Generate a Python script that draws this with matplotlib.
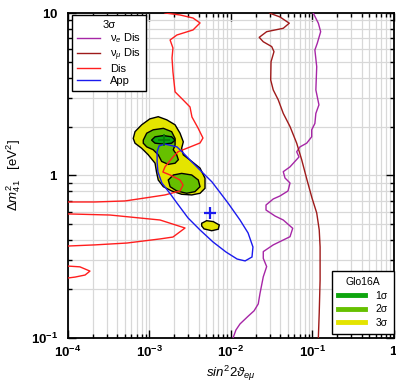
import matplotlib
matplotlib.use('Agg')
import matplotlib.pyplot as plt
from matplotlib.lines import Line2D
from matplotlib.ticker import NullFormatter

plt.rcParams['font.family'] = ['Liberation Sans', 'DejaVu Sans']
plt.rcParams['mathtext.fontset'] = 'custom'
plt.rcParams['mathtext.rm'] = 'Liberation Sans'
plt.rcParams['mathtext.it'] = 'Liberation Sans:italic'
plt.rcParams['mathtext.bf'] = 'Liberation Sans:bold'

# --- Glo16A allowed regions (sin^2 2theta_emu, dm2_41) ---
glo_3s_x = [6.32e-4, 6.64e-4, 8.02e-4, 1.01e-3, 1.28e-3, 1.63e-3, 2.06e-3, 2.37e-3, 2.60e-3,
            2.48e-3, 2.60e-3, 3.30e-3, 4.17e-3, 4.80e-3, 4.80e-3, 4.17e-3, 3.30e-3, 2.48e-3,
            1.87e-3, 1.48e-3, 1.28e-3, 1.22e-3, 1.17e-3, 9.66e-4, 8.02e-4, 6.64e-4]
glo_3s_y = [1.69, 1.86, 2.05, 2.23, 2.30, 2.20, 2.05, 1.82, 1.61, 1.47, 1.34, 1.22, 1.11,
            0.962, 0.834, 0.777, 0.759, 0.766, 0.803, 0.853, 0.938, 1.05, 1.19, 1.34, 1.47, 1.58]

island_3s_x = [4.37e-3, 5.03e-3, 6.07e-3, 7.18e-3, 6.98e-3, 5.80e-3, 4.67e-3, 4.37e-3]
island_3s_y = [0.508, 0.527, 0.520, 0.496, 0.467, 0.457, 0.469, 0.489]

glo_2s_up_x = [8.39e-4, 9.24e-4, 1.11e-3, 1.48e-3, 1.87e-3, 2.06e-3, 2.06e-3, 1.96e-3, 2.16e-3,
               2.26e-3, 2.06e-3, 1.70e-3, 1.41e-3, 1.28e-3, 1.11e-3, 9.24e-4, 8.39e-4]
glo_2s_up_y = [1.65, 1.82, 1.91, 1.95, 1.86, 1.69, 1.54, 1.44, 1.34, 1.25, 1.19, 1.17, 1.22,
               1.34, 1.44, 1.50, 1.58]

glo_2s_lo_x = [1.70e-3, 1.96e-3, 2.48e-3, 3.30e-3, 3.97e-3, 4.17e-3, 3.61e-3, 2.86e-3, 2.16e-3, 1.79e-3]
glo_2s_lo_y = [0.938, 1.007, 1.03, 1.007, 0.938, 0.853, 0.795, 0.777, 0.803, 0.853]

glo_1s_x = [1.06e-3, 1.17e-3, 1.48e-3, 1.87e-3, 2.06e-3, 1.87e-3, 1.48e-3, 1.17e-3]
glo_1s_y = [1.65, 1.73, 1.76, 1.73, 1.65, 1.58, 1.56, 1.58]

glo_best = (1.52e-3, 1.65)
app_best = (5.52e-3, 0.590)

# --- 3 sigma curves ---
app_x = [1.24e-3, 1.27e-3, 1.42e-3, 1.84e-3, 2.17e-3, 2.97e-3, 4.17e-3, 6.01e-3, 8.69e-3,
         1.19e-2, 1.49e-2, 1.81e-2, 1.86e-2, 1.62e-2, 1.29e-2, 9.19e-3, 5.85e-3, 4.41e-3,
         3.32e-3, 2.58e-3, 2.17e-3, 1.55e-3, 1.31e-3, 1.24e-3]
app_y = [1.21, 1.05, 0.899, 0.759, 0.677, 0.548, 0.462, 0.390, 0.338, 0.306, 0.298, 0.315,
         0.363, 0.443, 0.532, 0.677, 0.912, 1.05, 1.21, 1.38, 1.50, 1.56, 1.52, 1.40]

dis_x = [1.01e-3, 1.55e-3, 2.37e-3, 3.42e-3, 4.17e-3, 3.42e-3, 2.17e-3, 1.79e-3, 1.94e-3,
         1.89e-3, 1.94e-3, 2.06e-3, 2.58e-3, 3.14e-3, 3.32e-3, 3.94e-3, 4.53e-3, 4.17e-3,
         2.97e-3, 2.24e-3, 1.89e-3, 1.55e-3, 1.46e-3, 1.79e-3, 2.37e-3, 2.58e-3, 2.37e-3,
         1.55e-3, 8.81e-4, 5.01e-4, 2.14e-4, 1.0e-4, 6.9e-5, 6.9e-5, 1.0e-4, 3.28e-4,
         1.35e-3, 2.73e-3, 1.94e-3, 1.35e-3, 5.30e-4, 2.14e-4, 1.0e-4, 6.9e-5, 6.9e-5,
         1.0e-4, 1.40e-4, 1.86e-4, 1.62e-4, 1.22e-4, 1.0e-4, 6.9e-5]
dis_y = [11.2, 10.0, 9.72, 9.31, 8.68, 7.86, 7.32, 6.82, 6.09, 5.28, 4.34, 3.27, 2.92, 2.64,
         2.29, 1.96, 1.70, 1.585, 1.48, 1.40, 1.28, 1.13, 1.05, 1.007, 0.938, 0.874, 0.803,
         0.759, 0.727, 0.697, 0.687, 0.687, 0.677, 0.588, 0.580, 0.571, 0.532, 0.475, 0.418,
         0.407, 0.384, 0.374, 0.368, 0.368, 0.281, 0.277, 0.274, 0.258, 0.244, 0.237, 0.234, 0.231]

numu_x = [2.61e-2, 3.01e-2, 3.99e-2, 5.19e-2, 4.38e-2, 2.74e-2, 2.22e-2, 2.49e-2, 3.16e-2,
          3.37e-2, 3.10e-2, 3.07e-2, 3.30e-2, 3.80e-2, 4.38e-2, 5.30e-2, 6.40e-2, 7.37e-2,
          8.57e-2, 9.86e-2, 0.1127, 0.121, 0.124, 0.124, 0.121, 0.118, 0.118]
numu_y = [10.7, 9.96, 9.45, 8.65, 8.05, 7.67, 7.08, 6.65, 6.21, 5.78, 5.01, 3.87, 3.36, 2.92,
          2.41, 2.00, 1.58, 1.25, 0.938, 0.727, 0.588, 0.462, 0.363, 0.228, 0.143, 0.1, 0.095]

nue_x = [0.1014, 0.102, 0.118, 0.126, 0.1145, 0.107, 0.1127, 0.110, 0.120, 0.110, 0.107,
         9.78e-2, 9.78e-2, 8.49e-2, 7.03e-2, 6.40e-2, 6.83e-2, 5.30e-2, 4.38e-2, 4.60e-2,
         5.30e-2, 5.01e-2, 3.99e-2, 3.30e-2, 2.69e-2, 2.69e-2, 3.47e-2, 4.38e-2, 5.72e-2,
         5.30e-2, 3.30e-2, 2.49e-2, 2.49e-2, 2.74e-2, 2.49e-2, 2.27e-2, 2.16e-2, 1.92e-2,
         1.62e-2, 1.29e-2, 1.15e-2, 1.06e-2, 1.03e-2]
nue_y = [11.2, 10.0, 8.65, 7.67, 6.51, 5.92, 4.67, 3.36, 2.72, 2.41, 2.09, 1.91, 1.73, 1.58,
         1.50, 1.40, 1.30, 1.13, 1.055, 0.965, 0.899, 0.803, 0.748, 0.717, 0.658, 0.613,
         0.563, 0.532, 0.473, 0.420, 0.374, 0.340, 0.309, 0.275, 0.238, 0.188, 0.162, 0.147,
         0.136, 0.122, 0.112, 0.1, 0.095]

xticks = [1e-4, 1e-3, 1e-2, 1e-1, 1]
xticklabels = [r'$\mathbf{10^{-4}}$', r'$\mathbf{10^{-3}}$', r'$\mathbf{10^{-2}}$',
               r'$\mathbf{10^{-1}}$', r'$\mathbf{1}$']
yticks = [0.1, 1, 10]
yticklabels = [r'$\mathbf{10^{-1}}$', r'$\mathbf{1}$', r'$\mathbf{10}$']

c1, c2, c3 = '#0ea50e', '#66c000', '#e4e400'
c_nue, c_numu, c_dis, c_app = '#a626a6', '#9e1a1a', '#ff1e1e', '#1a1aee'

fig = plt.figure(figsize=(3.96, 3.86), dpi=100)
ax = fig.add_axes([0.1717, 0.1244, 0.8232, 0.842])
ax.set_xscale('log')
ax.set_yscale('log')
ax.set_xlim(1e-4, 1)
ax.set_ylim(0.1, 10)
ax.grid(True, which='both', color='#d8d8d8', lw=0.9)
ax.set_axisbelow(True)

ax.fill(glo_3s_x, glo_3s_y, facecolor=c3, edgecolor='k', lw=1, zorder=2)
ax.fill(island_3s_x, island_3s_y, facecolor=c3, edgecolor='k', lw=1, zorder=2)
ax.fill(glo_2s_up_x, glo_2s_up_y, facecolor=c2, edgecolor='k', lw=1, zorder=2)
ax.fill(glo_2s_lo_x, glo_2s_lo_y, facecolor=c2, edgecolor='k', lw=1, zorder=2)
ax.fill(glo_1s_x, glo_1s_y, facecolor=c1, edgecolor='k', lw=1, zorder=2)

ax.plot(nue_x, nue_y, color=c_nue, lw=1, zorder=3)
ax.plot(numu_x, numu_y, color=c_numu, lw=1, zorder=3)
ax.plot(dis_x, dis_y, color=c_dis, lw=1, zorder=3)
ax.fill(app_x, app_y, fill=False, edgecolor=c_app, lw=1, zorder=3)

ax.plot(*glo_best, marker='+', ms=9, mew=1.2, color='#087a08', zorder=4)
ax.plot(*app_best, marker='+', ms=9, mew=1.6, color=c_app, zorder=4)

ax.set_xticks(xticks)
ax.set_xticklabels(xticklabels)
ax.set_yticks(yticks)
ax.set_yticklabels(yticklabels)
ax.xaxis.set_minor_formatter(NullFormatter())
ax.yaxis.set_minor_formatter(NullFormatter())
ax.tick_params(which='both', direction='in', top=True, right=True, width=1, labelsize=9.5)
ax.tick_params(which='major', length=6)
ax.tick_params(which='minor', length=3)
ax.tick_params(axis='x', pad=5)
ax.tick_params(axis='y', pad=7)
for sp in ax.spines.values():
    sp.set_linewidth(1.3)

ax.set_xlabel(r'$sin^2 2\vartheta_{e\mu}$', fontsize=9.5, labelpad=3)
ax.set_ylabel(r'$\Delta m^2_{41}$   [eV$^2$]', fontsize=9.5, labelpad=6)

h1 = [Line2D([], [], color=c_nue, lw=1), Line2D([], [], color=c_numu, lw=1),
      Line2D([], [], color=c_dis, lw=1), Line2D([], [], color=c_app, lw=1)]
leg1 = ax.legend(h1, [r'ν$_e$ Dis', r'ν$_\mu$ Dis', 'Dis', 'App'], title='3σ',
                 loc='upper left', bbox_to_anchor=(0.012, 0.995), borderaxespad=0,
                 fontsize=8, title_fontsize=8, fancybox=False, framealpha=1,
                 edgecolor='k', handlelength=2.0, handletextpad=0.9, labelspacing=0.12,
                 borderpad=0.5)
leg1.get_frame().set_linewidth(1)
ax.add_artist(leg1)

h2 = [Line2D([], [], color=c1, lw=3.5), Line2D([], [], color=c2, lw=3.5),
      Line2D([], [], color=c3, lw=3.5)]
leg2 = ax.legend(h2, ['1σ', '2σ', '3σ'], title='Glo16A', loc='lower right',
                 bbox_to_anchor=(1.0, 0.012), borderaxespad=0, fontsize=7.5,
                 title_fontsize=7.5, fancybox=False, framealpha=1, edgecolor='k',
                 handlelength=2.6, handletextpad=1.0, labelspacing=0.35, borderpad=0.6)
leg2.get_frame().set_linewidth(1)

fig.savefig('out.png', dpi=100)
